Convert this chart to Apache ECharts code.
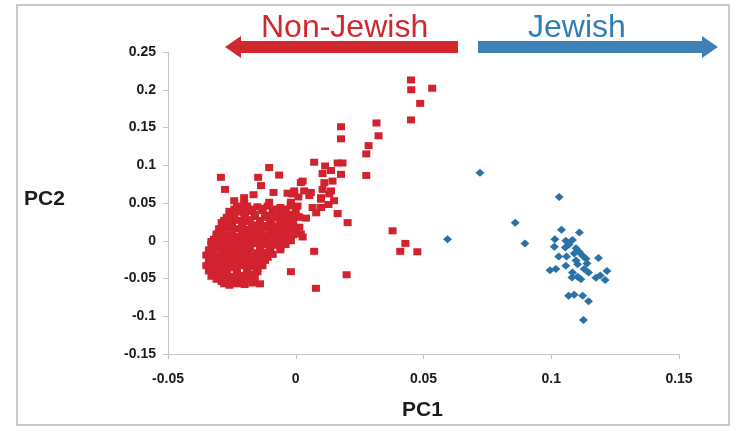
<!DOCTYPE html>
<html>
<head>
<meta charset="utf-8">
<script src="https://cdn.jsdelivr.net/npm/echarts@6/dist/echarts.min.js"></script>
<style>
html,body{margin:0;padding:0;background:#fff;}
#c{width:738px;height:431px;}
</style>
</head>
<body>
<div id="c"></div>
<script>
// Tick values
var xTicks = [-0.05, 0, 0.05, 0.1, 0.15];
var yTicks = [-0.15, -0.1, -0.05, 0, 0.05, 0.1, 0.15, 0.2, 0.25];

// Non-Jewish samples (PC1, PC2)
var nonJewishOutliers = [
  [0.0451, 0.213], [0.0452, 0.200], [0.0534, 0.202], [0.0487, 0.182], [0.0451, 0.160],
  [0.0316, 0.156], [0.0324, 0.139], [0.0285, 0.126], [0.0276, 0.115], [0.0276, 0.0865],
  [0.0379, 0.0132], [0.0429, -0.0035], [0.0409, -0.014], [0.0476, -0.0146],
  [0.0177, 0.151], [0.0177, 0.135],
  [0.0199, -0.045], [0.0079, -0.063], [-0.0019, -0.041], [0.0072, -0.014]
];
var nonJewishRidge = [
  [0.0072, 0.104], [0.0115, 0.099], [0.0164, 0.103], [0.0183, 0.103], [0.0105, 0.089],
  [0.0138, 0.093], [0.0177, 0.088], [0.0027, 0.079], [0.0112, 0.077], [0.0144, 0.079],
  [-0.0006, 0.066], [0.0033, 0.066], [0.0059, 0.064], [0.0105, 0.068], [0.0138, 0.066],
  [0.0099, 0.057], [0.0164, 0.036], [0.0203, 0.024], [0.0027, 0.005], [-0.0019, 0.0],
  [0.0066, 0.044], [0.0128, 0.048], [0.0014, 0.031], [0.0014, 0.018], [0.0007, 0.046],
  [0.0099, 0.044], [0.0099, 0.055], [0.0131, 0.062], [0.0053, 0.060], [-0.0013, 0.062],
  [0.004, 0.030], [0.008, 0.037], [0.015, 0.053], [0.001, 0.058], [0.002, 0.009],
  [-0.0104, 0.097], [-0.0293, 0.084], [-0.0147, 0.084], [-0.0065, 0.087], [-0.0277, 0.068],
  [-0.0136, 0.073], [-0.0087, 0.064], [-0.0032, 0.063], [-0.0241, 0.053], [-0.0202, 0.057],
  [-0.0165, 0.061], [-0.0104, 0.051], [0.0020, 0.077], [-0.0202, 0.049], [-0.0019, 0.051]
];
var nonJewishCore = [
  [-0.023, 0.046], [-0.019, 0.046], [-0.015, 0.045], [-0.011, 0.046], [-0.006, 0.044], [-0.002, 0.046],
  [-0.026, 0.039], [-0.022, 0.038], [-0.018, 0.039], [-0.013, 0.040], [-0.009, 0.038], [-0.004, 0.039], [0.0, 0.038],
  [-0.027, 0.031], [-0.024, 0.030], [-0.020, 0.031], [-0.016, 0.032], [-0.012, 0.031], [-0.008, 0.030], [-0.003, 0.031], [0.001, 0.032],
  [-0.029, 0.024], [-0.025, 0.023], [-0.021, 0.024], [-0.018, 0.025], [-0.014, 0.024], [-0.010, 0.023], [-0.006, 0.024], [-0.002, 0.024],
  [-0.030, 0.016], [-0.027, 0.017], [-0.023, 0.016], [-0.019, 0.015], [-0.016, 0.016], [-0.012, 0.017], [-0.008, 0.016], [-0.004, 0.015], [0.000, 0.016],
  [-0.031, 0.009], [-0.028, 0.008], [-0.025, 0.009], [-0.021, 0.010], [-0.017, 0.009], [-0.013, 0.008], [-0.009, 0.009], [-0.005, 0.010], [-0.001, 0.008],
  [-0.032, 0.002], [-0.029, 0.001], [-0.026, 0.002], [-0.022, 0.003], [-0.019, 0.002], [-0.015, 0.001], [-0.011, 0.002], [-0.007, 0.003], [-0.003, 0.001],
  [-0.033, -0.005], [-0.030, -0.004], [-0.027, -0.005], [-0.024, -0.006], [-0.020, -0.005], [-0.016, -0.004], [-0.012, -0.005], [-0.008, -0.006], [-0.004, -0.005],
  [-0.034, -0.012], [-0.031, -0.011], [-0.028, -0.012], [-0.025, -0.013], [-0.021, -0.012], [-0.018, -0.011], [-0.014, -0.012], [-0.010, -0.013], [-0.006, -0.012],
  [-0.035, -0.019], [-0.031, -0.020], [-0.028, -0.019], [-0.024, -0.018], [-0.021, -0.019], [-0.017, -0.020], [-0.013, -0.019], [-0.009, -0.018],
  [-0.034, -0.026], [-0.031, -0.027], [-0.027, -0.026], [-0.024, -0.025], [-0.020, -0.026], [-0.016, -0.027], [-0.012, -0.026],
  [-0.035, -0.033], [-0.032, -0.034], [-0.028, -0.033], [-0.025, -0.032], [-0.021, -0.033], [-0.017, -0.034], [-0.013, -0.033],
  [-0.034, -0.040], [-0.030, -0.041], [-0.027, -0.040], [-0.023, -0.039], [-0.019, -0.040], [-0.015, -0.041],
  [-0.033, -0.047], [-0.029, -0.048], [-0.025, -0.047], [-0.021, -0.046], [-0.017, -0.048],
  [-0.029, -0.054], [-0.025, -0.055], [-0.021, -0.054], [-0.016, -0.053],
  [-0.026, -0.059], [-0.020, -0.058], [-0.014, -0.057]
];
var nonJewishCoreFill = [
  [-0.024, 0.042], [-0.021, 0.042], [-0.017, 0.042], [-0.013, 0.043], [-0.008, 0.042], [-0.004, 0.042],
  [-0.025, 0.035], [-0.020, 0.035], [-0.016, 0.035], [-0.011, 0.034], [-0.006, 0.035], [-0.002, 0.035],
  [-0.028, 0.027], [-0.023, 0.027], [-0.018, 0.028], [-0.014, 0.027], [-0.010, 0.027], [-0.005, 0.028], [-0.001, 0.027],
  [-0.028, 0.020], [-0.025, 0.020], [-0.021, 0.020], [-0.017, 0.021], [-0.013, 0.020], [-0.009, 0.020], [-0.005, 0.019], [-0.001, 0.020],
  [-0.029, 0.012], [-0.025, 0.012], [-0.021, 0.013], [-0.018, 0.012], [-0.014, 0.012], [-0.010, 0.012], [-0.006, 0.013], [-0.002, 0.012],
  [-0.031, 0.005], [-0.027, 0.005], [-0.023, 0.006], [-0.020, 0.005], [-0.016, 0.005], [-0.012, 0.005], [-0.008, 0.006], [-0.004, 0.005],
  [-0.033, -0.001], [-0.028, -0.001], [-0.024, -0.002], [-0.021, -0.001], [-0.017, -0.001], [-0.013, -0.001], [-0.009, -0.002], [-0.005, -0.001],
  [-0.032, -0.008], [-0.028, -0.008], [-0.025, -0.009], [-0.022, -0.008], [-0.018, -0.008], [-0.014, -0.008], [-0.010, -0.009], [-0.006, -0.008],
  [-0.033, -0.015], [-0.029, -0.015], [-0.026, -0.016], [-0.023, -0.015], [-0.019, -0.015], [-0.015, -0.016], [-0.011, -0.015],
  [-0.033, -0.022], [-0.029, -0.023], [-0.026, -0.022], [-0.022, -0.022], [-0.019, -0.023], [-0.015, -0.022], [-0.011, -0.022],
  [-0.033, -0.030], [-0.030, -0.030], [-0.026, -0.029], [-0.022, -0.030], [-0.018, -0.030], [-0.014, -0.030],
  [-0.033, -0.037], [-0.030, -0.037], [-0.026, -0.036], [-0.023, -0.037], [-0.019, -0.037], [-0.015, -0.037],
  [-0.031, -0.044], [-0.027, -0.044], [-0.023, -0.043], [-0.019, -0.044], [-0.016, -0.044],
  [-0.031, -0.051], [-0.027, -0.051], [-0.023, -0.050], [-0.019, -0.051],
  [-0.028, -0.057], [-0.023, -0.057], [-0.017, -0.056]
];
var nonJewish = nonJewishOutliers.concat(nonJewishRidge, nonJewishCore, nonJewishCoreFill);

// Jewish samples (PC1, PC2)
var jewish = [
  [0.0721, 0.090], [0.1031, 0.058], [0.0859, 0.024], [0.0594, 0.002], [0.0897, -0.0035],
  [0.1040, 0.0146], [0.1110, 0.011], [0.1014, 0.002], [0.1057, 0.0], [0.1083, 0.001],
  [0.1012, -0.008], [0.1055, -0.009], [0.1097, -0.010], [0.1110, -0.015], [0.1123, -0.020],
  [0.1029, -0.021], [0.1060, -0.021], [0.1097, -0.026], [0.1136, -0.024], [0.1185, -0.023],
  [0.1057, -0.033], [0.1103, -0.031], [0.0995, -0.039], [0.1018, -0.0375], [0.1083, -0.042],
  [0.1129, -0.0375], [0.1146, -0.042], [0.1218, -0.040], [0.1081, -0.0486], [0.1103, -0.0477],
  [0.1175, -0.049], [0.1192, -0.046], [0.1211, -0.052], [0.1116, -0.051], [0.1068, -0.073],
  [0.1090, -0.0715], [0.1123, -0.073], [0.1146, -0.080], [0.1126, -0.105], [0.1070, -0.005],
  [0.1090, -0.017], [0.1140, -0.030]
];

var labels = { left: 'Non-Jewish', right: 'Jewish', x: 'PC1', y: 'PC2' };

var chart = echarts.init(document.getElementById('c'), null, { renderer: 'canvas' });
var fmt = function (v) { return String(Math.round(v * 1000) / 1000); };
var FONT = 'Liberation Sans, Arial, sans-serif';
var axisFont = { fontFamily: FONT, fontWeight: 'bold', fontSize: 14, color: '#1a1a1a' };

chart.setOption({
  animation: false,
  backgroundColor: '#ffffff',
  grid: { left: 168, right: 59, top: 52, bottom: 77, containLabel: false },
  xAxis: {
    type: 'value', min: xTicks[0], max: xTicks[xTicks.length - 1], interval: 0.05,
    axisLine: { show: true, onZero: false, lineStyle: { color: '#c4c4c4', width: 1 } },
    axisTick: { show: true, inside: false, length: 5, lineStyle: { color: '#c4c4c4' } },
    splitLine: { show: false },
    axisLabel: Object.assign({ margin: 18, formatter: fmt }, axisFont)
  },
  yAxis: {
    type: 'value', min: yTicks[0], max: yTicks[yTicks.length - 1], interval: 0.05,
    axisLine: { show: true, onZero: false, lineStyle: { color: '#c4c4c4', width: 1 } },
    axisTick: { show: true, inside: false, length: 5, lineStyle: { color: '#c4c4c4' } },
    splitLine: { show: false },
    axisLabel: Object.assign({ margin: 12, formatter: fmt }, axisFont)
  },
  series: [
    {
      name: labels.left, type: 'scatter', data: nonJewish,
      symbol: 'rect', symbolSize: [8, 7],
      itemStyle: { color: '#d1222e', opacity: 1 }
    },
    {
      name: labels.right, type: 'scatter', data: jewish,
      symbol: 'diamond', symbolSize: [9, 8],
      itemStyle: { color: '#2a72a6', opacity: 1 }
    }
  ],
  graphic: [
    { type: 'rect', shape: { x: 17, y: 5, width: 712, height: 420 }, style: { fill: 'none', stroke: '#c8c8c8', lineWidth: 2 }, silent: true },
    { type: 'polygon', shape: { points: [[225, 47], [241, 36], [241, 41], [458, 41], [458, 53], [241, 53], [241, 58]] }, style: { fill: '#d1282f' }, silent: true },
    { type: 'polygon', shape: { points: [[718, 47], [702, 36], [702, 41], [478, 41], [478, 53], [702, 53], [702, 58]] }, style: { fill: '#3f80b7' }, silent: true },
    { type: 'text', left: 261, top: 12, style: { text: labels.left, fontFamily: FONT, fontSize: 32, fill: '#d1282f' }, silent: true },
    { type: 'text', left: 528, top: 12, style: { text: labels.right, fontFamily: FONT, fontSize: 32, fill: '#2f7fb3' }, silent: true },
    { type: 'text', left: 402, top: 400, style: { text: labels.x, fontFamily: FONT, fontWeight: 'bold', fontSize: 21, fill: '#1a1a1a' }, silent: true },
    { type: 'text', left: 24, top: 189, style: { text: labels.y, fontFamily: FONT, fontWeight: 'bold', fontSize: 21, fill: '#1a1a1a' }, silent: true }
  ]
});
</script>
</body>
</html>
